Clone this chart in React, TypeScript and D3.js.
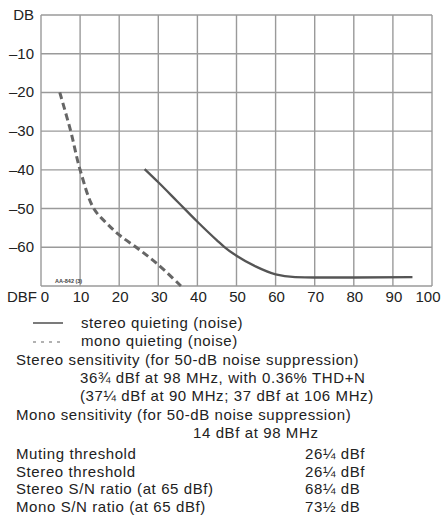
import React, { useEffect, useRef } from 'react';
import * as d3 from 'd3';

// level axis (dB), signal axis (dBf)
const xTicks = [0, 10, 20, 30, 40, 50, 60, 70, 80, 90, 100];
const yTicks = [0, -10, -20, -30, -40, -50, -60, -70];

// stereo quieting (noise), solid
const stereoX = [26.5, 30, 35, 40, 45, 47, 50, 55, 60, 65, 70, 80, 95];
const stereoY = [-39.8, -43.2, -48.3, -53.4, -58.2, -60, -62.2, -65, -67, -67.7, -67.8, -67.8, -67.7];

// mono quieting (noise), dashed
const monoX = [4.8, 7.6, 10, 13.5, 17, 20, 25, 30, 35.8];
const monoY = [-20, -30, -40, -50, -54, -56.8, -60.5, -64.5, -70];

const legendRows = [
  { label: 'stereo quieting (noise)', dash: '' },
  { label: 'mono quieting (noise)', dash: '3,5' },
];

const specLines = [
  { text: 'Stereo sensitivity (for 50-dB noise suppression)', x: 16 },
  { text: '36¾ dBf at 98 MHz, with 0.36% THD+N', x: 80 },
  { text: '(37¼ dBf at 90 MHz; 37 dBf at 106 MHz)', x: 80 },
  { text: 'Mono sensitivity (for 50-dB noise suppression)', x: 16 },
  { text: '14 dBf at 98 MHz', x: 193 },
];

const specTable = [
  ['Muting threshold', '26¼ dBf'],
  ['Stereo threshold', '26¼ dBf'],
  ['Stereo S/N ratio (at 65 dBf)', '68¼ dB'],
  ['Mono S/N ratio (at 65 dBf)', '73½ dB'],
];

const App = () => {
  const ref = useRef<SVGSVGElement>(null);

  useEffect(() => {
    const svg = d3.select(ref.current);
    svg.selectAll('*').remove();
    const font = '"Liberation Sans", Arial, sans-serif';
    const ink = '#222';

    const x = d3.scaleLinear().domain([0, 100]).range([41, 432]);
    const y = d3.scaleLinear().domain([0, -70]).range([15, 286]);

    // grid
    const grid = svg.append('g').attr('stroke', '#9a9a9a').attr('stroke-width', 1.4);
    grid.selectAll('.v').data(xTicks).enter().append('line')
      .attr('x1', d => x(d)).attr('x2', d => x(d))
      .attr('y1', y(0)).attr('y2', y(-70));
    grid.selectAll('.h').data(yTicks).enter().append('line')
      .attr('x1', x(0)).attr('x2', x(100))
      .attr('y1', d => y(d)).attr('y2', d => y(d));

    // y labels
    svg.append('g').selectAll('text').data(yTicks.slice(0, 7)).enter().append('text')
      .attr('x', 34).attr('y', d => y(d) + 5)
      .attr('text-anchor', 'end')
      .attr('font-family', font).attr('font-size', 15).attr('fill', ink)
      .text(d => (d === 0 ? 'DB' : '\u2013' + Math.abs(d)));

    // x labels
    svg.append('g').selectAll('text').data(xTicks).enter().append('text')
      .attr('x', d => x(d) + (d === 0 ? 4 : d === 100 ? -4 : 1)).attr('y', 302)
      .attr('text-anchor', 'middle')
      .attr('font-family', font).attr('font-size', 15).attr('fill', ink)
      .text(d => String(d));
    svg.append('text').attr('x', 7).attr('y', 302)
      .attr('font-family', font).attr('font-size', 15).attr('fill', ink)
      .text('DBF');

    svg.append('text').attr('x', 55).attr('y', 283)
      .attr('font-family', font).attr('font-size', 5.5).attr('font-weight', 'bold').attr('fill', '#444')
      .text('AA-842 (3)');

    const line = d3.line<[number, number]>()
      .x(d => x(d[0])).y(d => y(d[1]))
      .curve(d3.curveMonotoneX);

    svg.append('path')
      .datum(stereoX.map((v, i) => [v, stereoY[i]] as [number, number]))
      .attr('d', line).attr('fill', 'none')
      .attr('stroke', '#555').attr('stroke-width', 2.3);

    svg.append('path')
      .datum(monoX.map((v, i) => [v, monoY[i]] as [number, number]))
      .attr('d', d3.line<[number, number]>().x(d => x(d[0])).y(d => y(d[1])).curve(d3.curveCatmullRom))
      .attr('fill', 'none')
      .attr('stroke', '#666').attr('stroke-width', 3)
      .attr('stroke-dasharray', '7,4');

    const txt = (s: string, tx: number, ty: number) =>
      svg.append('text').attr('x', tx).attr('y', ty)
        .attr('font-family', font).attr('font-size', 15).attr('fill', ink)
        .attr('letter-spacing', 0.6)
        .text(s);

    // legend
    legendRows.forEach((r, i) => {
      const yy = 323 + i * 19;
      svg.append('line').attr('x1', 33).attr('x2', 63).attr('y1', yy).attr('y2', yy)
        .attr('stroke', i === 0 ? '#333' : '#999').attr('stroke-width', 1.3)
        .attr('stroke-dasharray', r.dash || null);
      txt(r.label, 81, 328 + i * 18.3);
    });

    specLines.forEach((s, i) => {
      txt(s.text, s.x, 364.6 + i * 18.3);
    });

    specTable.forEach((r, i) => {
      const yy = 459 + i * 17.7;
      txt(r[0], 16, yy);
      txt(r[1], 305, yy);
    });
  }, []);

  return (
    <svg ref={ref} width={443} height={518}
      style={{ position: 'absolute', left: 0, top: 0, background: '#fff' }} />
  );
};

export default App;
